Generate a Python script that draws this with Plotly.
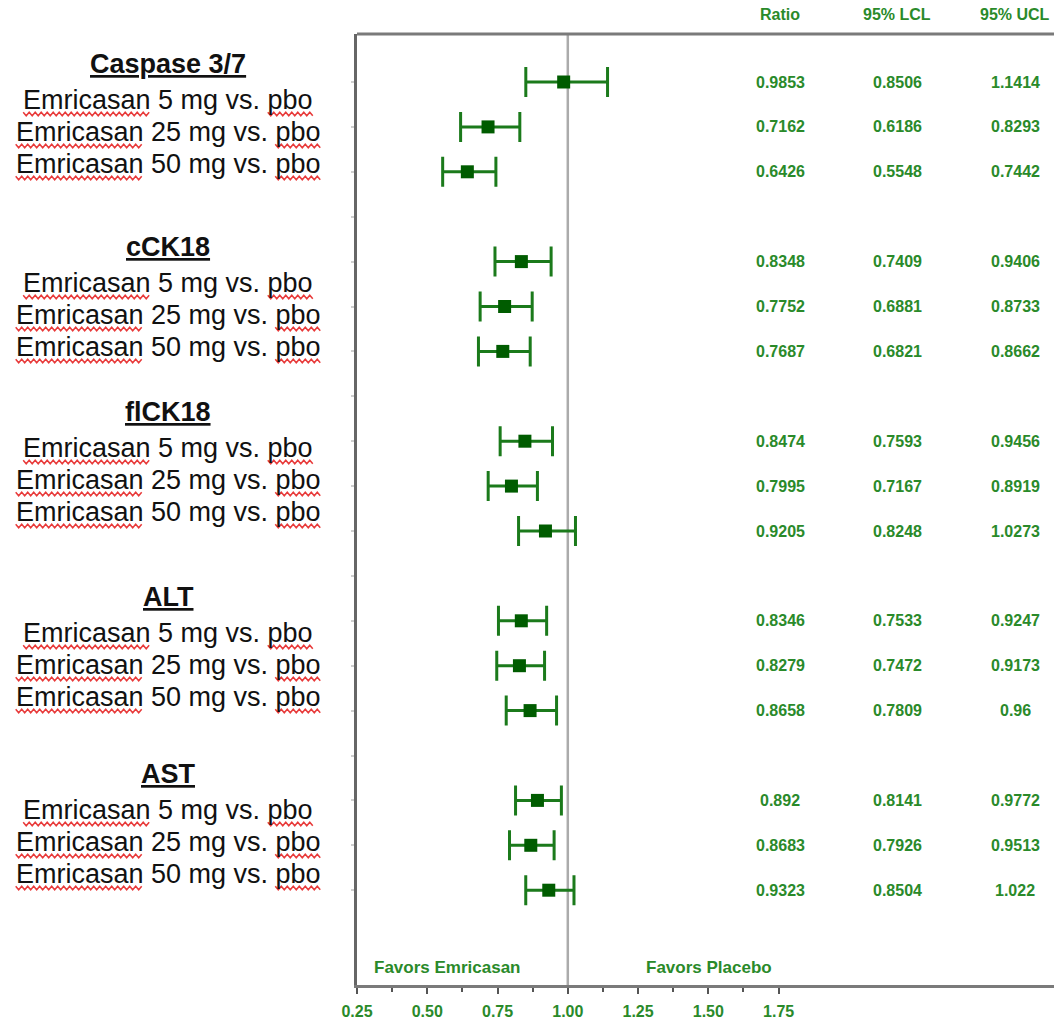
import plotly.graph_objects as go

# ---- data -------------------------------------------------------------
groups = ["Caspase 3/7", "cCK18", "flCK18", "ALT", "AST"]
comparisons = ["Emricasan 5 mg vs. pbo", "Emricasan 25 mg vs. pbo", "Emricasan 50 mg vs. pbo"]

ratio = [0.9853, 0.7162, 0.6426,
         0.8348, 0.7752, 0.7687,
         0.8474, 0.7995, 0.9205,
         0.8346, 0.8279, 0.8658,
         0.892, 0.8683, 0.9323]
lcl = [0.8506, 0.6186, 0.5548,
       0.7409, 0.6881, 0.6821,
       0.7593, 0.7167, 0.8248,
       0.7533, 0.7472, 0.7809,
       0.8141, 0.7926, 0.8504]
ucl = [1.1414, 0.8293, 0.7442,
       0.9406, 0.8733, 0.8662,
       0.9456, 0.8919, 1.0273,
       0.9247, 0.9173, 0.96,
       0.9772, 0.9513, 1.022]

x_ticks = [0.25, 0.50, 0.75, 1.00, 1.25, 1.50, 1.75]
table_headers = ["Ratio", "95% LCL", "95% UCL"]

# ---- layout constants --------------------------------------------------
W, H = 1054, 1020
ML, MR, MT, MB = 357, 0, 34, 35
PW, PH = W - ML - MR, H - MT - MB

FONT = "Arial, Liberation Sans, sans-serif"
GREEN_TXT = "#2a8a2a"
GREEN_BAR = "#1b7a1b"
GREEN_MK = "#005c00"
AXIS_GRAY = "#7a7a7a"
SMALL = 16

# one row per comparison, one blank row between groups
rows = [4 * g + c for g in range(len(groups)) for c in range(len(comparisons))]


def px_x(px):
    return (px - ML) / PW


def px_y(py):
    return (H - MB - py) / PH


fig = go.Figure()

fig.add_trace(go.Scatter(
    x=ratio, y=rows, mode="markers",
    marker=dict(symbol="square", size=13, color=GREEN_MK),
    error_x=dict(type="data", symmetric=False,
                 array=[u - r for u, r in zip(ucl, ratio)],
                 arrayminus=[r - l for r, l in zip(ratio, lcl)],
                 color=GREEN_BAR, thickness=3, width=15),
    showlegend=False, hoverinfo="skip",
))

# reference line at ratio 1
fig.add_shape(type="line", xref="x", yref="paper", x0=1, x1=1, y0=0, y1=1,
              line=dict(color="#ababab", width=2.5), layer="below")
# top frame line
fig.add_shape(type="line", xref="paper", yref="paper", x0=0, x1=1, y0=1, y1=1,
              line=dict(color=AXIS_GRAY, width=3))

annotations = []


def note(text, x, y, size, color, yref="paper"):
    annotations.append(dict(x=x, y=y, xref="paper", yref=yref, text=text,
                            showarrow=False, xanchor="center", yanchor="middle",
                            font=dict(family=FONT, size=size, color=color)))


# table columns on the right
col_px = [780, 897, 1015]
for hdr, cx in zip(table_headers, col_px):
    note(f"<b>{hdr}</b>", px_x(cx), px_y(15), SMALL, GREEN_TXT)
for r, v, lo, hi in zip(rows, ratio, lcl, ucl):
    for val, cx in zip((v, lo, hi), col_px):
        note(f"<b>{val:g}</b>", px_x(cx), r, SMALL, GREEN_TXT, yref="y")

# direction captions
for txt, cx in (("Favors Emricasan", 447), ("Favors Placebo", 709)):
    note(f"<b>{txt}</b>", px_x(cx), px_y(967), 17, GREEN_TXT)

# left-hand row labels
LABEL_CX = 168
LABEL_SIZE = 27
heading_py = [64, 247, 412, 597, 774]
item_offsets = [36, 68, 100]

# Arial advance widths (1/1000 em) for the label glyphs
ADV = {"E": 667, "m": 833, "r": 333, "i": 222, "c": 500, "a": 556, "s": 500,
       "n": 556, " ": 278, "g": 556, "v": 500, ".": 278, "p": 556, "b": 556,
       "o": 556}


def text_w(s):
    return sum(ADV.get(ch, 556) for ch in s) * LABEL_SIZE / 1000


def squiggle(x0, x1, y):
    pts, x, k = [], x0, 0
    while x <= x1:
        yy = y + (1.8 if k % 2 else -1.8)
        pts.append(f"{px_x(x):.5f},{px_y(yy):.5f}")
        x += 3.0
        k += 1
    return "M " + " L ".join(pts)


for g, hy in zip(groups, heading_py):
    note(f"<b><u>{g}</u></b>", px_x(LABEL_CX), px_y(hy), LABEL_SIZE, "#111111")
    for comp, off in zip(comparisons, item_offsets):
        cy = hy + off
        note(comp, px_x(LABEL_CX), px_y(cy), LABEL_SIZE, "#111111")
        # proofing-style wavy underline under "Emricasan" and "pbo"
        total = text_w(comp)
        left = LABEL_CX - total / 2
        w_first = text_w("Emricasan")
        w_last = text_w("pbo")
        for a, b in ((left, left + w_first), (left + total - w_last, left + total + 2)):
            fig.add_shape(type="path", xref="paper", yref="paper",
                          path=squiggle(a, b, cy + 14),
                          line=dict(color="#e83a3a", width=1.5))

fig.update_layout(
    width=W, height=H,
    margin=dict(l=ML, r=MR, t=MT, b=MB),
    paper_bgcolor="white", plot_bgcolor="white",
    annotations=annotations,
    xaxis=dict(range=[0.25, 0.25 + PW / 281.07],
               tickvals=x_ticks, ticktext=[f"<b>{t:.2f}</b>" for t in x_ticks],
               tickfont=dict(family=FONT, size=SMALL, color=GREEN_TXT),
               ticks="outside", ticklen=6, tickwidth=2, tickcolor="#555555",
               ticklabelstandoff=4,
               minor=dict(tickvals=[0.375, 0.625, 0.875, 1.125, 1.375, 1.625],
                          ticks="outside", ticklen=4, tickwidth=2, tickcolor="#555555"),
               showline=True, linecolor=AXIS_GRAY, linewidth=3,
               showgrid=False, zeroline=False, fixedrange=True),
    yaxis=dict(range=[(H - MB - 82) / 44.9, (MT - 82) / 44.9],
               tickvals=list(range(0, 19)), showticklabels=False,
               ticks="outside", ticklen=3, tickwidth=1.5, tickcolor="#cfcfcf",
               showline=True, linecolor="#666666", linewidth=3,
               showgrid=False, zeroline=False, fixedrange=True),
)

fig.write_html("out.html")
